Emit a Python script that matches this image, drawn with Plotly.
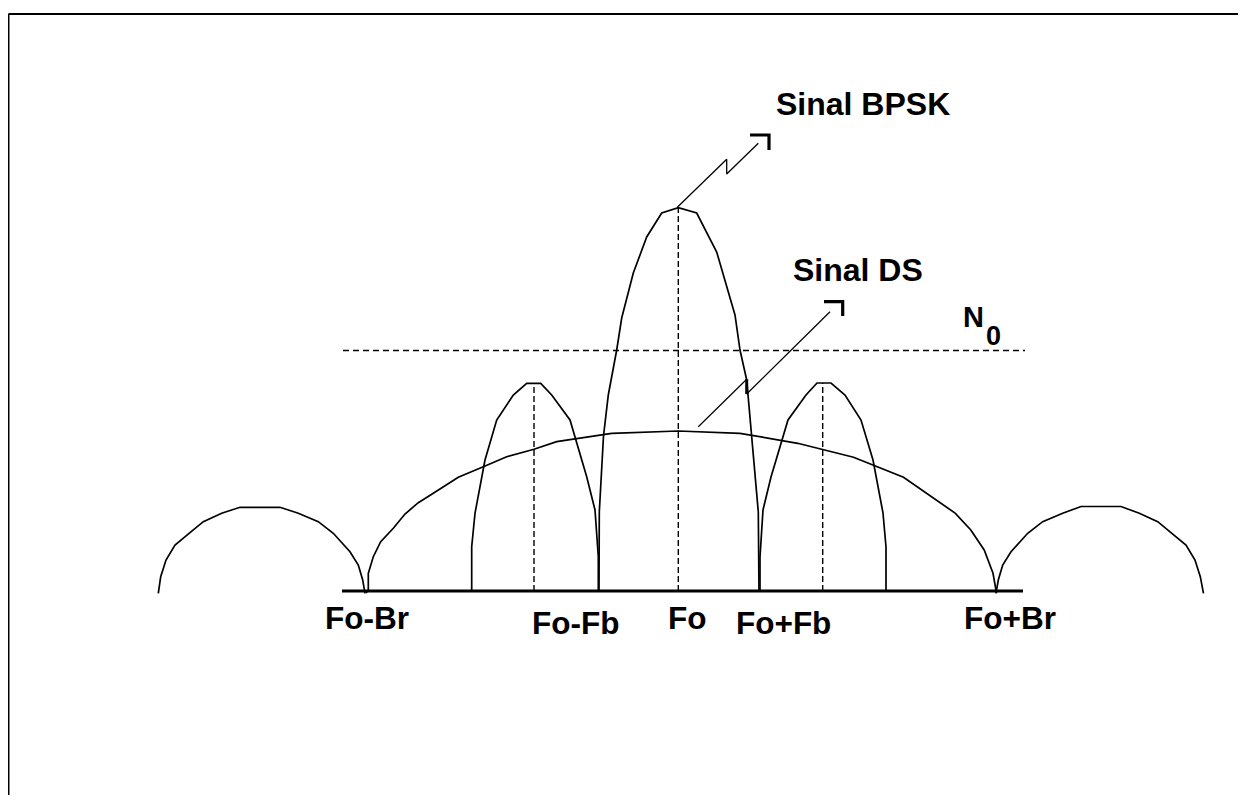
import plotly.graph_objects as go

# Coordinates: x = frequency offset from Fo, y = spectral level above the baseline
# BPSK main lobe (Fo-Fb .. Fo+Fb)
bpsk_main_x = [-80, -79.7, -75.5, -70.7, -62.3, -57.3, -45.7, -32.3, -17.3, -0.7, 17.7, 37.7, 56, 61, 67.7, 72.7, 79.3, 80]
bpsk_main_y = [0, 79, 155, 196, 241, 273, 318, 354, 378, 383.3, 378, 339, 276, 241, 211, 156, 79, 0]

# BPSK side lobes
bpsk_left_x = [-207.3, -207.3, -204, -194, -182.3, -165.7, -152.3, -138.3, -127.3, -109, -92.3, -84, -80.7, -80.7]
bpsk_left_y = [0, 44.3, 77.7, 131, 171, 196, 207.7, 207.7, 196, 171, 114.3, 81, 34.3, 0]
bpsk_right_x = [81, 81, 84, 92, 109, 127, 138, 152, 166, 182, 194, 204, 207, 207]
bpsk_right_y = [0, 34, 81, 114, 171, 196, 208, 208, 196, 171, 131, 78, 44, 0]

# DS (spread) main lobe (Fo-Br .. Fo+Br)
ds_main_x = [-313, -310.7, -310.7, -305.7, -298.3, -285.7, -274, -260.7, -245.7, -220.7, -195.7, -172.3,
             -145, -122.3, -67.3, -0.7, 61, 118.7, 174.5, 224.5, 276.4, 291.8, 305.2, 314, 317.5]
ds_main_y = [-2, 1, 17.7, 34.3, 49.3, 62.7, 77, 88.3, 97.7, 113.7, 124.3, 134.3,
             141.7, 149.3, 157.7, 160, 157.7, 147.7, 133.7, 113.7, 77.7, 61, 41, 17.7, -2]

# DS side lobes
ds_left_x = [-520.7, -518.3, -513, -504, -489, -475.7, -457.3, -439, -399, -380.7, -360.7, -345.7, -329, -320.7, -316.3, -314]
ds_left_y = [-2.3, 14.3, 31, 46, 58.3, 69.3, 77.7, 83.7, 83.7, 77.7, 69.3, 57.7, 39.3, 26, 11, -2.3]
ds_right_x = [317, 319.3, 323.7, 332, 348.7, 363.7, 383.7, 402, 442, 460.3, 478.7, 492, 507, 516, 521.3, 524.5]
ds_right_y = [-2.3, 11, 26, 39.3, 57.7, 69.3, 77.7, 84.5, 84.5, 77.7, 69.3, 58.3, 46, 31, 14.3, -2.3]

# Frequency axis (baseline) and noise level N0
baseline_x = [-337, 344]
baseline_y = [0, 0]
n0_x = [-336, 346]
n0_y = [240.5, 240.5]

# Centre markers (dashed verticals)
marker_x = [-0.7, -145, 143.7]
marker_top = [383.3, 207.7, 208]

# Label pointers (leader with Z-break) and end brackets
bpsk_ptr_x = [-1.7, 47.7, 47.7, 79.3]
bpsk_ptr_y = [383.7, 431.7, 417, 447.7]
bpsk_brk_x = [71, 90, 90]
bpsk_brk_y = [456, 456, 441]
ds_ptr_x = [19.3, 67.7, 67.7, 151]
ds_ptr_y = [164.3, 211.7, 197, 279.3]
ds_brk_x = [145, 163.7, 163.7]
ds_brk_y = [289.3, 289.3, 275]

# Tick labels on the frequency axis
tick_labels = ["Fo-Br", "Fo-Fb", "Fo", "Fo+Fb", "Fo+Br"]
tick_x = [-312.3, -104, 7.5, 104.5, 331]
tick_y = [-26.5, -31.5, -26.5, -31.5, -26.5]

# Callout labels
callout_text = ["Sinal BPSK", "Sinal DS"]
callout_x = [184.3, 178.5]
callout_y = [487, 321]

FONT = "Liberation Sans, Arial, sans-serif"

fig = go.Figure()

def add_line(x, y, width=1.5, dash=None):
    fig.add_trace(go.Scatter(x=x, y=y, mode="lines", hoverinfo="skip", showlegend=False,
                             line=dict(color="black", width=width, dash=dash)))

for xs, ys in [(bpsk_main_x, bpsk_main_y), (bpsk_left_x, bpsk_left_y), (bpsk_right_x, bpsk_right_y),
               (ds_main_x, ds_main_y), (ds_left_x, ds_left_y), (ds_right_x, ds_right_y)]:
    add_line(xs, ys, 1.7)

add_line(baseline_x, baseline_y, 3.2)
add_line(n0_x, n0_y, 1.4, "6px,4px")
for mx, mt in zip(marker_x, marker_top):
    add_line([mx, mx], [0, mt], 1.4, "6px,3px")

add_line(bpsk_ptr_x, bpsk_ptr_y, 1.3)
add_line(bpsk_brk_x, bpsk_brk_y, 3.2)
add_line(ds_ptr_x, ds_ptr_y, 1.2)
add_line(ds_brk_x, ds_brk_y, 3.2)

# thick segment where the DS leader breaks on the lobe edge
add_line([ds_ptr_x[1], ds_ptr_x[2]], [ds_ptr_y[1], ds_ptr_y[2]], 3)

for t, x, y in zip(tick_labels, tick_x, tick_y):
    fig.add_annotation(x=x, y=y, text="<b>%s</b>" % t, showarrow=False, xanchor="center", yanchor="middle",
                       font=dict(family=FONT, size=31.5, color="black"))
for t, x, y in zip(callout_text, callout_x, callout_y):
    fig.add_annotation(x=x, y=y, text="<b>%s</b>" % t, showarrow=False, xanchor="center", yanchor="middle",
                       font=dict(family=FONT, size=32, color="black"))
fig.add_annotation(x=294, y=274, text="<b>N</b>", showarrow=False, xanchor="center", yanchor="middle",
                   font=dict(family=FONT, size=29, color="black"))
fig.add_annotation(x=314.3, y=254.7, text="<b>0</b>", showarrow=False, xanchor="center", yanchor="middle",
                   font=dict(family=FONT, size=27, color="black"))

# page frame (top and left edges)
fig.add_shape(type="line", xref="paper", yref="paper", x0=0.0004, x1=1, y0=0.99238, y1=0.99238,
              line=dict(color="black", width=2))
fig.add_shape(type="line", xref="paper", yref="paper", x0=0.0004, x1=0.0004, y0=-0.01, y1=0.99238,
              line=dict(color="black", width=2))

fig.update_layout(
    width=1230, height=787, autosize=False,
    margin=dict(l=0, r=0, t=0, b=0, pad=0),
    paper_bgcolor="white", plot_bgcolor="white",
    xaxis=dict(range=[-671, 559], visible=False, fixedrange=True),
    yaxis=dict(range=[-204, 583], visible=False, fixedrange=True),
    showlegend=False,
)

fig.write_html("out.html", config={"displayModeBar": False, "staticPlot": True})
